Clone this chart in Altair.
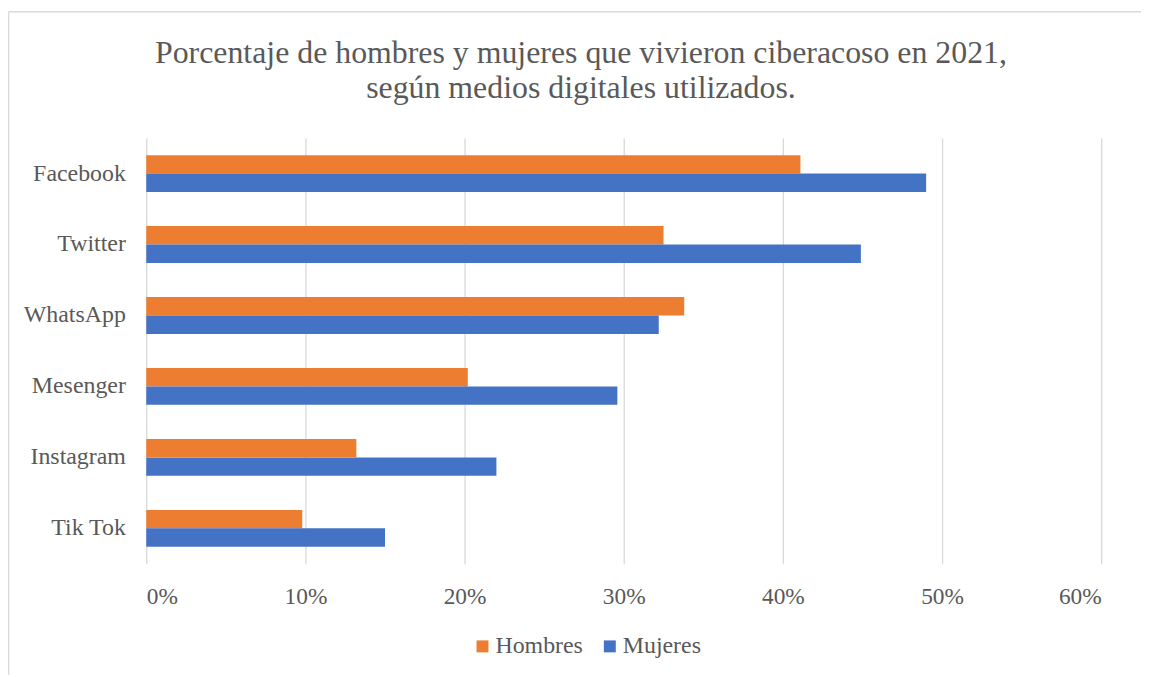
import altair as alt
import pandas as pd

categories = ["Facebook", "Twitter", "WhatsApp", "Mesenger", "Instagram", "Tik Tok"]
hombres = [41.1, 32.5, 33.8, 20.2, 13.2, 9.8]
mujeres = [49.0, 44.9, 32.2, 29.6, 22.0, 15.0]
series = ["Hombres", "Mujeres"]
colors = ["#ED7D31", "#4472C4"]
tick_values = [0, 0.1, 0.2, 0.3, 0.4, 0.5, 0.6]
title_lines = ["Porcentaje de hombres y mujeres que vivieron ciberacoso en 2021,",
               "según medios digitales utilizados."]

rows = []
for c, h, m in zip(categories, hombres, mujeres):
    rows.append({"medio": c, "sexo": "Hombres", "valor": h / 100})
    rows.append({"medio": c, "sexo": "Mujeres", "valor": m / 100})
df = pd.DataFrame(rows)

FONT = "Liberation Serif"
TXT = "#595959"

bars = alt.Chart(df).mark_bar(size=18.5).encode(
    x=alt.X("valor:Q",
            scale=alt.Scale(domain=[0, 0.6], nice=False),
            axis=alt.Axis(values=tick_values, format=".0%", title=None,
                          domain=False, ticks=False, grid=True,
                          gridColor="#D9D9D9", gridWidth=1.3,
                          labelFont=FONT, labelFontSize=23.5, labelColor=TXT,
                          labelPadding=21)),
    y=alt.Y("medio:N", sort=categories,
            scale=alt.Scale(paddingInner=0.48, paddingOuter=0.24),
            axis=alt.Axis(title=None, domain=False, ticks=False, grid=False,
                          labelFont=FONT, labelFontSize=24, labelColor=TXT,
                          labelPadding=21)),
    yOffset=alt.YOffset("sexo:N", sort=series, scale=alt.Scale(paddingInner=0, paddingOuter=0)),
    color=alt.Color("sexo:N", sort=series,
                    scale=alt.Scale(domain=series, range=colors),
                    legend=alt.Legend(title=None, orient="none", direction="horizontal",
                                      legendX=326, legendY=499,
                                      symbolType="square", symbolSize=144,
                                      symbolStrokeWidth=0,
                                      labelFont=FONT, labelFontSize=24, labelColor=TXT,
                                      labelOffset=1, columnPadding=15, padding=0)),
)

frame_top = alt.Chart(alt.Data(values=[{}])).mark_rule(color="#D9D9D9", strokeWidth=1.5).encode(
    x=alt.value(-138.5), x2=alt.value(1010), y=alt.value(-127)
)
frame_left = alt.Chart(alt.Data(values=[{}])).mark_rule(color="#D9D9D9", strokeWidth=1.5).encode(
    x=alt.value(-138.5), y=alt.value(-127), y2=alt.value(560)
)

title1 = alt.Chart(alt.Data(values=[{"t": title_lines[0]}])).mark_text(
    font=FONT, fontSize=32, color=TXT, align="center", baseline="alphabetic"
).encode(text="t:N", x=alt.value(437), y=alt.value(-75))
title2 = alt.Chart(alt.Data(values=[{"t": title_lines[1]}])).mark_text(
    font=FONT, fontSize=32, color=TXT, align="center", baseline="alphabetic"
).encode(text="t:N", x=alt.value(437), y=alt.value(-40))

chart = alt.layer(frame_top, frame_left, title1, title2, bars).properties(
    width=960,
    height=428,
    padding={"left": 139, "top": 129, "right": 40, "bottom": 110},
    autosize=alt.AutoSizeParams(type="none"),
).configure_view(stroke=None)

chart.save("out.html", embed_options={"renderer": "svg", "actions": False})
